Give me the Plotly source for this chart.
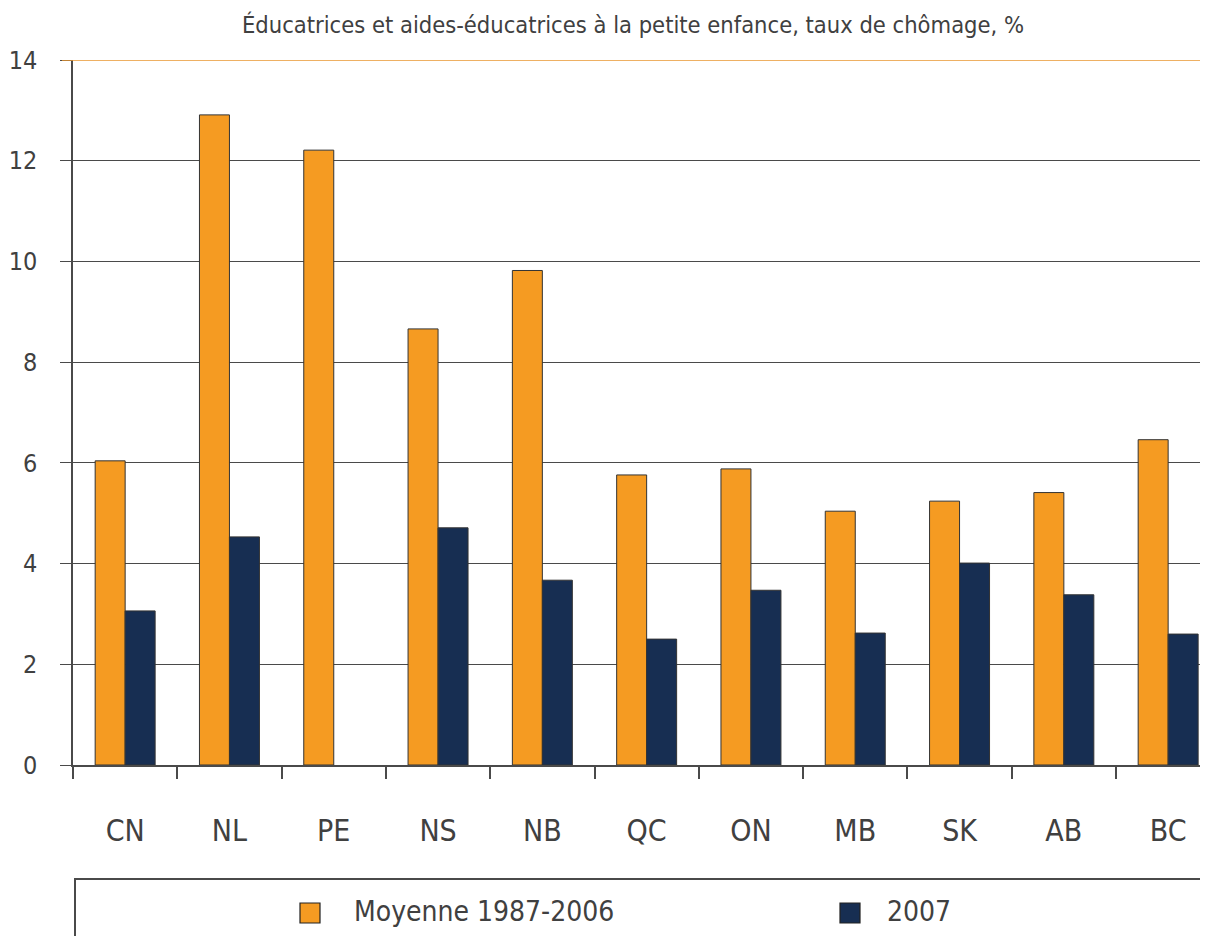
import plotly.graph_objects as go

categories = ["CN", "NL", "PE", "NS", "NB", "QC", "ON", "MB", "SK", "AB", "BC"]
series_names = ["Moyenne 1987-2006", "2007"]
avg_1987_2006 = [6.04, 12.91, 12.21, 8.66, 9.82, 5.76, 5.88, 5.04, 5.24, 5.41, 6.46]
rate_2007 = [3.06, 4.53, None, 4.71, 3.67, 2.50, 3.47, 2.62, 4.01, 3.38, 2.60]
y_ticks = [0, 2, 4, 6, 8, 10, 12, 14]
title_text = "Éducatrices et aides-éducatrices à la petite enfance, taux de chômage, %"

ORANGE = "#F59B22"
NAVY = "#172E52"
TEXT = "#404040"
LINE = "#4a4a4a"
FONT = "Liberation Sans Narrow, DejaVu Sans Condensed, Arial Narrow, sans-serif"

W, H = 1208, 936
OFF = 8  # page body margin offset
# target on-screen positions
SX0, SX1, SY0, SY1 = 73, 1208, 60, 765
L = SX0 - OFF
R = W - (SX1 - OFF)
T = SY0 - OFF
B = H - (SY1 - OFF)
PW = W - L - R
PH = H - T - B

fig = go.Figure()
fig.add_trace(go.Bar(x=categories, y=avg_1987_2006, name=series_names[0],
                     marker=dict(color=ORANGE, line=dict(color="#333333", width=1)),
                     showlegend=False))
fig.add_trace(go.Bar(x=categories, y=rate_2007, name=series_names[1],
                     marker=dict(color=NAVY, line=dict(color="#333333", width=1)),
                     showlegend=False))

fig.update_layout(
    width=W, height=H,
    margin=dict(l=L, r=R, t=T, b=B, autoexpand=False),
    paper_bgcolor="white", plot_bgcolor="white",
    barmode="group", bargap=0.425, bargroupgap=0,
    font=dict(family=FONT, color=TEXT),
    title=dict(text=title_text, x=((241 + 1025) / 2 - OFF) / W, xanchor="center",
               y=1 - (25 - OFF) / H, yanchor="middle",
               font=dict(size=23.5, family=FONT, color=TEXT)),
)

fig.update_xaxes(
    range=[-0.5, -0.5 + PW / 104.3],
    showline=True, linecolor=LINE, linewidth=1.5,
    ticks="outside", tickson="boundaries", ticklen=12, tickcolor=LINE, tickwidth=1.5,
    tickfont=dict(size=30, family=FONT, color=TEXT),
    ticklabelstandoff=38, automargin=False,
    showgrid=False, fixedrange=True,
)
fig.update_yaxes(
    range=[0, 14], tickvals=y_ticks,
    showline=True, linecolor=LINE, linewidth=1.5,
    ticks="outside", ticklen=11, tickcolor=LINE, tickwidth=1.2,
    showgrid=True, gridcolor=LINE, gridwidth=1.2,
    tickfont=dict(size=25, family=FONT, color=TEXT),
    ticklabelstandoff=18, automargin=False,
    zeroline=False,
)

# orange top gridline at 14
fig.add_shape(type="line", xref="paper", yref="y",
              x0=-11 / PW, x1=1, y0=14, y1=14,
              line=dict(color="#E8962F", width=1.5), layer="above")

def px_x(x):
    return (x - SX0) / PW

def px_y(y):
    return (SY1 - y) / PH

# legend box
fig.add_shape(type="rect", xref="paper", yref="paper",
              x0=px_x(75), x1=px_x(1230), y0=px_y(879), y1=px_y(980),
              line=dict(color=LINE, width=2), fillcolor="rgba(0,0,0,0)")

legend_items = [(series_names[0], ORANGE, 300, 352), (series_names[1], NAVY, 840, 885)]
for name, col, sx, tx in legend_items:
    fig.add_shape(type="rect", xref="paper", yref="paper",
                  x0=px_x(sx), x1=px_x(sx + 20), y0=px_y(923), y1=px_y(903),
                  line=dict(color="#222222", width=1.2), fillcolor=col)
    fig.add_annotation(xref="paper", yref="paper", x=px_x(tx), y=px_y(911),
                       xanchor="left", yanchor="middle", showarrow=False,
                       text=name, font=dict(size=28, family=FONT, color=TEXT))

fig.write_html("out.html")
